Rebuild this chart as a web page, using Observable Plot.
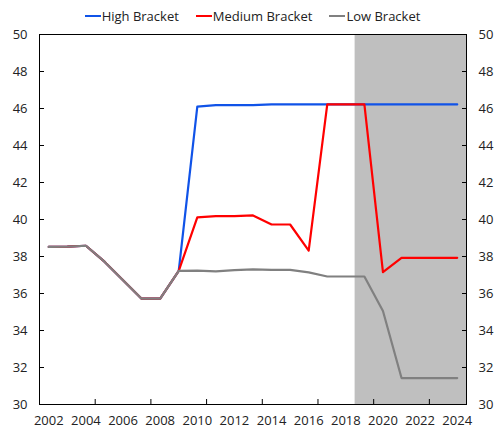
<!DOCTYPE html>
<html>
<head>
<meta charset="utf-8">
<script src="https://cdn.jsdelivr.net/npm/d3@7"></script>
<script src="https://cdn.jsdelivr.net/npm/@observablehq/plot@0.6"></script>
<style>
  body { margin: 0; background: #fff; font-family: "Open Sans", "Noto Sans", sans-serif; }
  #legend { width: 494px; height: 26px; box-sizing: border-box; padding-top: 6px; padding-left: 11px;
    display: flex; justify-content: center; align-items: center; font-size: 13px; color: #222; gap: 17px; }
  .item { display: flex; align-items: center; }
  .sw { width: 16px; height: 2px; margin-right: 1px; }
</style>
</head>
<body>
<div id="legend"></div>
<div id="chart"></div>
<script>
const years = d3.range(2002, 2025);
const seriesNames = ["High Bracket", "Medium Bracket", "Low Bracket"];
const seriesColors = ["#1053e8", "#ff0000", "#808080"];
const high = [38.52, 38.53, 38.58, 37.72, 36.72, 35.72, 35.72, 37.22, 46.10, 46.18, 46.18, 46.18, 46.22, 46.22, 46.22, 46.22, 46.22, 46.22, 46.22, 46.22, 46.22, 46.22, 46.22];
const medium = [38.52, 38.53, 38.58, 37.72, 36.72, 35.72, 35.72, 37.22, 40.12, 40.18, 40.18, 40.22, 39.73, 39.73, 38.32, 46.22, 46.22, 46.22, 37.15, 37.93, 37.93, 37.93, 37.93];
const low = [38.52, 38.53, 38.58, 37.72, 36.72, 35.72, 35.72, 37.22, 37.24, 37.20, 37.26, 37.30, 37.28, 37.28, 37.14, 36.92, 36.92, 36.92, 35.05, 31.43, 31.43, 31.43, 31.43];
const xLabels = d3.range(2002, 2025, 2);
const xTickMarks = [2004.5, 2007.5, 2010.5, 2013.5, 2016.5, 2019.5, 2022.5];
const yTicks = d3.range(30, 51, 2);
const shade = [{start: 2018.5, end: 2024.5}];

const values = [high, medium, low];
const rows = [];
seriesNames.forEach((s, i) => years.forEach((yr, j) => rows.push({series: s, year: yr, value: values[i][j]})));

const legend = document.getElementById("legend");
seriesNames.forEach((s, i) => {
  const it = document.createElement("div");
  it.className = "item";
  it.innerHTML = `<span class="sw" style="background:${seriesColors[i]}"></span><span>${s}</span>`;
  legend.appendChild(it);
});

const chart = Plot.plot({
  width: 494,
  height: 407,
  marginTop: 8,
  marginBottom: 29,
  marginLeft: 39,
  marginRight: 28,
  style: {fontSize: "13px", fontFamily: "'Open Sans', 'Noto Sans', sans-serif", color: "#222", background: "#fff"},
  x: {domain: [2001.5, 2024.5]},
  y: {domain: [30, 50]},
  color: {domain: seriesNames, range: seriesColors},
  marks: [
    Plot.rect(shade, {x1: "start", x2: "end", fill: "#bfbfbf"}),
    ...seriesNames.map(s => Plot.line(rows.filter(r => r.series === s), {x: "year", y: "value", stroke: "series", strokeWidth: 2.2})),
    Plot.frame({stroke: "black", strokeWidth: 1}),
    Plot.axisX({ticks: xLabels, tickSize: 0, tickPadding: 11, tickFormat: d => String(d), label: null}),
    Plot.axisX({ticks: xTickMarks, tickSize: -5, tickFormat: () => "", label: null, stroke: "black"}),
    Plot.axisY({anchor: "left", ticks: yTicks, tickSize: 0, tickPadding: 12, label: null}),
    Plot.axisY({anchor: "left", ticks: yTicks, tickSize: -5, tickFormat: () => "", label: null, stroke: "black"}),
    Plot.axisY({anchor: "right", ticks: yTicks, tickSize: 0, tickPadding: 12, label: null}),
    Plot.axisY({anchor: "right", ticks: yTicks, tickSize: -5, tickFormat: () => "", label: null, stroke: "black"})
  ]
});
document.getElementById("chart").appendChild(chart);
</script>
</body>
</html>
